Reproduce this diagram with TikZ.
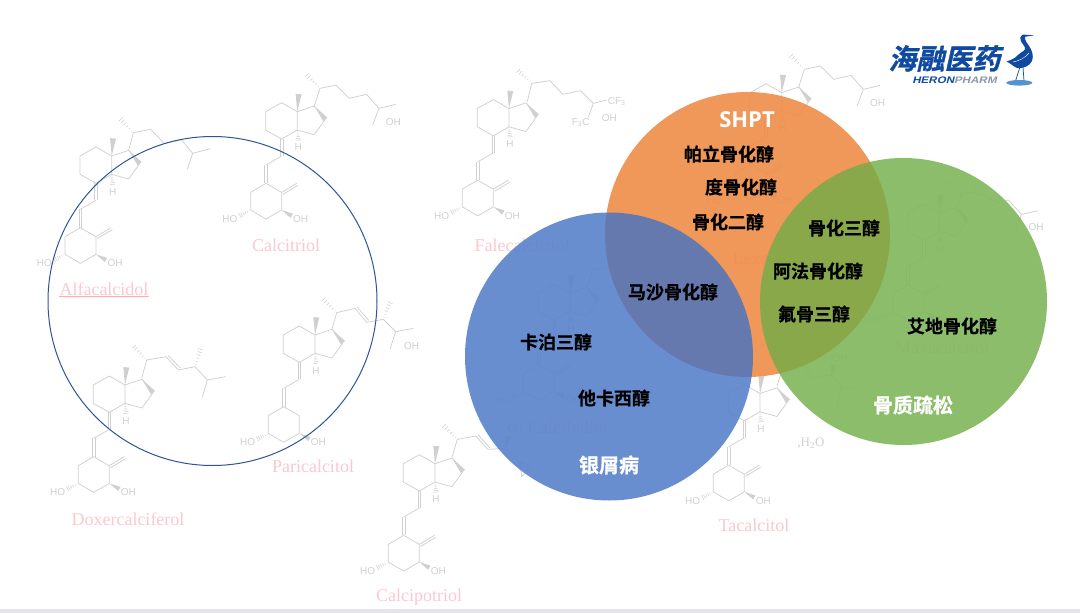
\documentclass[tikz,border=0pt]{standalone}
\usepackage{fontspec}
\usetikzlibrary{decorations.pathmorphing,calc}
\setmainfont{Liberation Serif}
\setsansfont{Liberation Sans}
\newfontfamily\cjk{Noto Sans CJK SC}[BoldFont={Noto Sans CJK SC Bold},BoldFeatures={FakeBold=0.6}]
\newfontfamily\cjklogo{Noto Sans CJK SC Bold}[FakeSlant=0.22,FakeBold=1.2]
\newfontfamily\latinlogo{Liberation Sans}[BoldFont={Liberation Sans Bold},FakeSlant=0.25,FakeStretch=1.22]
\newfontfamily\shptfont{Open Sans}[BoldFont={Open Sans Bold}]
\definecolor{molgray}{HTML}{D0D0D0}
\definecolor{pinklabel}{HTML}{F9C9CF}
\definecolor{ringblue}{HTML}{2F5597}
\definecolor{corange}{HTML}{ED7D31}
\definecolor{cblue}{HTML}{4472C4}
\definecolor{cgreen}{HTML}{70AD47}
\definecolor{logoblue}{HTML}{0F4AA0}
\definecolor{logogray}{HTML}{8E97A8}
\definecolor{barcolor}{HTML}{E6E6EA}
\tikzset{
  zs/.style 2 args={x=0.33333pt,y=-0.33333pt,shift={(#1pt,-#2pt)}},
  mol/.style={draw=molgray,line width=0.75pt,line join=round},
  molh/.style={draw=molgray,line width=0.55pt},
  moltxt/.style={font=\sffamily\fontsize{10}{10}\selectfont,text=molgray,inner sep=0pt},
  namelabel/.style={font=\rmfamily\fontsize{18}{18}\selectfont,text=pinklabel,inner sep=0pt},
  drug/.style={font=\cjk\bfseries\fontsize{18}{18}\selectfont,text=black,inner sep=0pt},
  disease/.style={font=\cjk\bfseries\fontsize{20}{20}\selectfont,text=white,inner sep=0pt},
  venn/.style={circle,inner sep=0pt,fill opacity=0.8},
  veil/.style={circle,inner sep=0pt,fill=white,fill opacity=0.55},
}
% hashed bond: x1 y1 x2 y2 halfwidth
\newcommand\hashb[5]{\foreach \t in {.12,.3,.48,.66,.84,1}{%
  \pgfmathsetmacro\hcx{#1+\t*(#3-#1)}%
  \pgfmathsetmacro\hcy{#2+\t*(#4-#2)}%
  \pgfmathsetmacro\hll{veclen(#3-#1,#4-#2)}%
  \pgfmathsetmacro\hux{-(#4-#2)/\hll*#5*\t}%
  \pgfmathsetmacro\huy{(#3-#1)/\hll*#5*\t}%
  \draw[molh] ({\hcx+\hux},{\hcy+\huy})--({\hcx-\hux},{\hcy-\huy});}}
% wedge bond: x1 y1 x2 y2 halfwidth
\newcommand\wedgeb[5]{%
  \pgfmathsetmacro\hll{veclen(#3-#1,#4-#2)}%
  \pgfmathsetmacro\hux{-(#4-#2)/\hll*#5}%
  \pgfmathsetmacro\huy{(#3-#1)/\hll*#5}%
  \fill[molgray] (#1,#2)--({#3+\hux},{#4+\huy})--({#3-\hux},{#4-\huy})--cycle;}
% core of the molecule; #1 #2 = position of C13 in px, #3 = node name prefix
\newcommand\vdcore[3]{\begin{scope}[zs={#1}{#2}]
  \draw[mol] (-95,0)--(-47,-27)--(0,0)--(0,55)--(-47,82)--(-95,55)--cycle;
  \draw[mol] (0,0)--(51,-17)--(84,23)--(51,69)--(0,55);
  \wedgeb{0}{0}{4}{-53}{9}
  \wedgeb{51}{-17}{84}{23}{8}
  \hashb{0}{55}{3}{85}{8}
  \node[moltxt] (#3H) at (3,107) {H};
  \draw[mol] (-51,82)--(-51,133) (-43,82)--(-43,133);
  \draw[mol] (-47,133)--(-94,160);
  \draw[mol] (-98,160)--(-98,215) (-90,160)--(-90,215);
  \draw[mol] (-94,215)--(-47,242)--(-47,295)--(-94,322)--(-140,295)--(-140,242)--cycle;
  \hashb{-140}{295}{-172}{312}{8}
  \wedgeb{-47}{295}{-17}{312}{7}
  \node[moltxt] (#3HO) at (-202,322) {HO};
  \node[moltxt] (#3OH) at (10,322) {OH};
\end{scope}}
% exocyclic methylene
\newcommand\exoch[2]{\begin{scope}[zs={#1}{#2}]
  \draw[mol] (-47,242)--(-2,215) (-43,248)--(2,221);
\end{scope}}
% 25-hydroxy cholestane side chain
\newcommand\cholchain[3]{\begin{scope}[zs={#1}{#2}]
  \draw[mol] (51,-17)--(68,-70)--(116,-80)--(156,-40)--(208,-52)--(245,-10)--(295,-22);
  \draw[mol] (245,-10)--(226,40);
  \hashb{68}{-70}{28}{-110}{8}
  \node[moltxt] (#3chOH) at (288,30) {OH};
\end{scope}}
\begin{document}
\begin{tikzpicture}[x=1pt,y=-1pt]
\useasboundingbox (0,0) rectangle (1080,613);
\fill[white] (0,0) rectangle (1080,613);
\fill[barcolor] (0,609) rectangle (1080,613);

% ---------- molecules
% Calcitriol
\vdcore{297.3}{111.7}{a}\exoch{297.3}{111.7}\cholchain{297.3}{111.7}{a}
% Alfacalcidol
\vdcore{111.7}{156}{b}\exoch{111.7}{156}
\begin{scope}[zs={30}{60}]
  \draw[mol] (296,272)--(310,218)--(362,208)--(402,250)--(455,240)--(488,280)--(542,266);
  \draw[mol] (488,280)--(472,328);
  \hashb{310}{218}{272}{178}{8}
\end{scope}
% Doxercalciferol
\vdcore{125}{385}{c}\exoch{125}{385}
\begin{scope}[zs={30}{280}]
  \draw[mol] (335,295)--(350,240)--(408,230) (408,230)--(445,270)--(495,260)--(532,300)--(587,290);
  \draw[mol] (414,226)--(451,264);
  \draw[mol] (532,300)--(517,352);
  \hashb{350}{240}{312}{200}{8}
  \hashb{495}{260}{512}{208}{8}
\end{scope}
% Paricalcitol
\vdcore{315}{335}{d}
\begin{scope}[zs={30}{280}]
  \draw[mol] (905,150)--(920,98)--(975,85)--(1010,127)--(1060,118)--(1097,155)--(1150,145);
  \draw[mol] (981,81)--(1016,121);
  \draw[mol] (1097,155)--(1080,208);
  \hashb{920}{98}{880}{58}{8}
  \hashb{1060}{118}{1080}{68}{8}
  \node[moltxt] (dOH2) at (1145,197) {OH};
\end{scope}
% Calcipotriol
\vdcore{435}{463.7}{e}\exoch{435}{463.7}
\begin{scope}[zs={340}{280}]
  \draw[mol] (336,532)--(352,478)--(408,468)--(443,508)--(495,505)--(540,545)--(575,560)--(545,590)--(540,545);
  \draw[mol] (414,464)--(449,503);
  \hashb{352}{478}{312}{438}{8}
  \wedgeb{495}{505}{505}{470}{8}
  \node[moltxt] (eOH2) at (525,445) {OH};
\end{scope}
% Falecalcitriol
\vdcore{509}{108.5}{f}\exoch{509}{108.5}
\begin{scope}[zs={430}{60}]
  \draw[mol] (292,125)--(305,70)--(360,62)--(398,103)--(452,92)--(490,130)--(530,120);
  \draw[mol] (490,130)--(475,172);
  \hashb{305}{70}{265}{32}{8}
  \node[moltxt] (fCF) at (560,125) {CF\textsubscript{3}};
  \node[moltxt] (fFC) at (452,188) {F\textsubscript{3}C};
  \node[moltxt] (fOH2) at (538,175) {OH};
\end{scope}
% Tacalcitol
\vdcore{760}{393.5}{g}\exoch{760}{393.5}
\begin{scope}[zs={680}{300}]
  \draw[mol] (291,258)--(308,205)--(365,190)--(400,235)--(455,225)--(485,265)--(540,258);
  \draw[mol] (485,265)--(470,320);
  \hashb{308}{205}{268}{165}{8}
  \wedgeb{455}{225}{460}{195}{8}
  \node[moltxt] (gOH2) at (480,175) {OH};
\end{scope}
% molecule behind the orange circle
\vdcore{781.7}{92.7}{h}\exoch{781.7}{92.7}\cholchain{781.7}{92.7}{h}
% molecule behind the blue circle
\vdcore{570}{293}{i}\exoch{570}{293}\cholchain{570}{293}{i}
% Maxacalcitol
\vdcore{939.3}{213}{j}\exoch{939.3}{213}
\begin{scope}[zs={760}{20}]
  \draw[mol] (590,575)--(605,520)--(640,517);
  \node[moltxt] (jO) at (652,515) {O};
  \draw[mol] (664,520)--(710,548)--(745,540)--(785,583)--(835,572);
  \draw[mol] (785,583)--(765,635);
  \hashb{605}{520}{565}{485}{8}
  \node[moltxt] (jOH2) at (828,622) {OH};
\end{scope}

% ---------- names
\node[namelabel] (Ncalcitriol) at (286,245) {Calcitriol};
\node[namelabel] (Nalfa) at (104,289) {Alfacalcidol};
\draw[draw=red!35!pinklabel,line width=0.4pt,decorate,decoration={snake,amplitude=0.5pt,segment length=2pt}] ($(Nalfa.south west)+(0,1)$) -- ($(Nalfa.south east)+(0,1)$);
\node[namelabel] (Ndoxer) at (128,519) {Doxercalciferol};
\node[namelabel] (Npari) at (313,466) {Paricalcitol};
\node[namelabel] (Ncalcipo) at (419,597) {Calcipotriol};
\node[namelabel] (Nfale) at (522,245) {Falecalcitriol};
\node[namelabel] (Ntaca) at (754,525) {Tacalcitol};
\node[namelabel] (Nlexa) at (777,258) {Lexacalcitol};
\node[namelabel] (Nmaxa) at (942,347) {Maxacalcitol};
\node[namelabel] (Ncalcife) at (568,427) {Calcifediol};
\node[font=\rmfamily\fontsize{13}{13}\selectfont,text=molgray,inner sep=0pt] (water) at (811,443) {,H\textsubscript{2}O};

% ---------- circles
\node[circle,draw=ringblue,line width=1pt,minimum size=329pt,inner sep=0pt] (outline) at (212.5,301) {};
\node[veil,minimum size=285pt] (veilo) at (747.5,234.5) {};
\node[veil,minimum size=288pt] (veilb) at (609,356.5) {};
\node[veil,minimum size=287pt] (veilg) at (903.5,301.5) {};
\node[venn,fill=corange,minimum size=285pt] (vshpt) at (747.5,234.5) {};
\node[venn,fill=cblue,minimum size=288pt] (vpso) at (609,356.5) {};
\node[venn,fill=cgreen,minimum size=287pt] (vost) at (903.5,301.5) {};

% ---------- texts
\node[font=\shptfont\bfseries\fontsize{22}{22}\selectfont,text=white,inner sep=0pt] (tshpt) at (747,120) {SHPT};
\node[drug] (t1) at (729,154) {帕立骨化醇};
\node[drug] (t2) at (741,187) {度骨化醇};
\node[drug] (t3) at (728,222) {骨化二醇};
\node[drug] (t4) at (844,228) {骨化三醇};
\node[drug] (t5) at (818,271) {阿法骨化醇};
\node[drug] (t6) at (814,314) {氟骨三醇};
\node[drug] (t7) at (673,292) {马沙骨化醇};
\node[drug] (t8) at (556,342) {卡泊三醇};
\node[drug] (t9) at (614,398) {他卡西醇};
\node[drug] (t10) at (952,326) {艾地骨化醇};
\node[disease] (t11) at (609,465) {银屑病};
\node[disease] (t12) at (913,405) {骨质疏松};

% ---------- logo
\node[font=\cjklogo\fontsize{28}{28}\selectfont,text=logoblue,inner sep=0pt] (logotext) at (944.5,58.5) {海融医药};
\node[font=\latinlogo\bfseries\fontsize{9.5}{9.5}\selectfont,inner sep=0pt] (logolatin) at (954.5,80.5) {\textcolor{logoblue}{HERON}\textcolor{logogray}{PHARM}};
\fill[logoblue] (1034,35.3) -- (1025,36.8) .. controls (1024.5,40) and (1027,43) .. (1029,46)
  .. controls (1032,50) and (1034,56) .. (1032,61)
  .. controls (1030,66) and (1022,69) .. (1017,68)
  .. controls (1014,67) and (1011,63.5) .. (1006.5,61.5)
  .. controls (1011,60) and (1015,58.5) .. (1018,55)
  .. controls (1022,51) and (1026,51) .. (1025,47.5)
  .. controls (1023,44) and (1020,41) .. (1020.3,37.5)
  .. controls (1020.5,35) and (1023,34) .. (1026,34.8) -- cycle;
\draw[white,line width=0.4pt] (1013,62) .. controls (1019,61) and (1025,58) .. (1029,53);
\draw[logoblue,line width=0.7pt] (1020,67)--(1015.5,81) (1023,67)--(1024,81);
\fill[cyan!55!blue!70] (1019.3,82.8) ellipse [x radius=13,y radius=2.8];
\end{tikzpicture}
\end{document}
